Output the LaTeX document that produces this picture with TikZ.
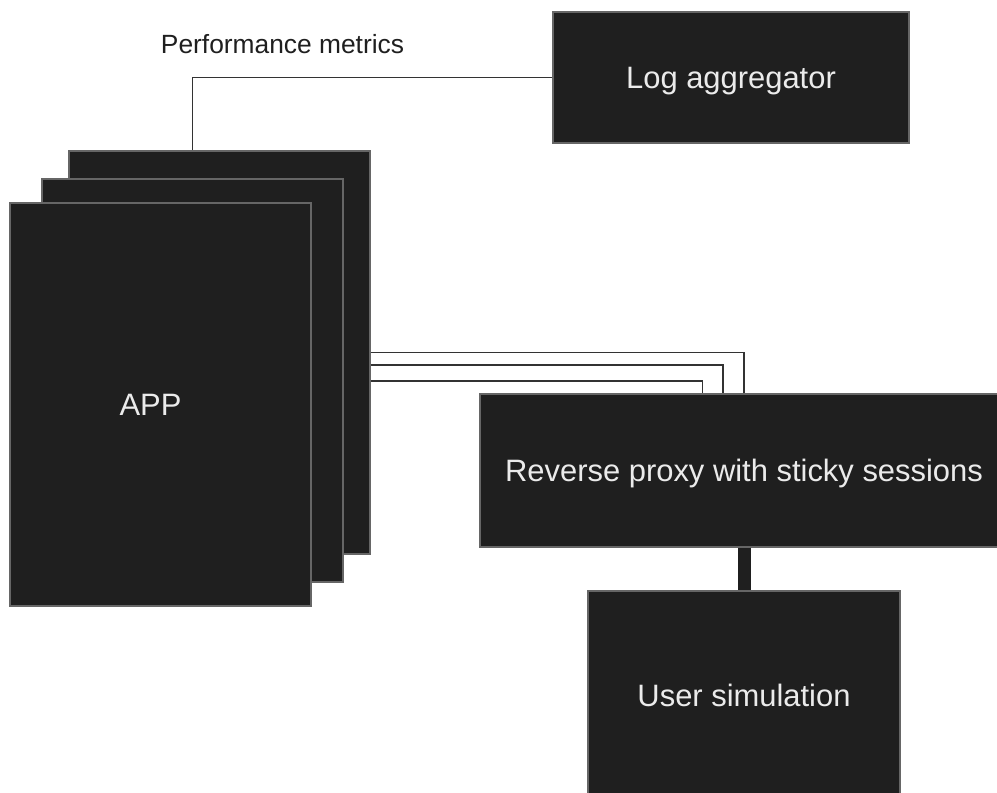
\documentclass[tikz,border=0pt]{standalone}
\usepackage{fontspec}
\setmainfont{Liberation Sans}
\usepackage{xcolor}
\usetikzlibrary{calc,backgrounds}

\definecolor{boxfill}{HTML}{1F1F1F}
\definecolor{boxedge}{HTML}{666666}
\definecolor{wire}{HTML}{333333}

\begin{document}
\begin{tikzpicture}[
  x=0.02cm, y=-0.02cm,
  every node/.style={font=\fontsize{17.6}{21}\selectfont, text depth=0pt},
  block/.style={draw=boxedge, fill=boxfill, text=white!92!black, line width=0.8pt, inner sep=0pt},
  app/.style={block, minimum width=6.02cm, minimum height=8.06cm},
  link/.style={draw=wire, line width=0.75pt}
]
  \useasboundingbox (0,0) rectangle (997,792);

  % stacked app instances, back to front
  \node[app] (app3) at (219.5,352.5) {};
  \node[app] (app2) at (192.5,380.5) {};
  \node[app] (app1) at (160.5,404.5) {};
  \node[text=white!92!black] (applabel) at ($(app1)+(-10,0)$) {APP};

  \node[block, minimum width=7.12cm, minimum height=2.62cm] (logagg) at (731,77.5) {Log aggregator};
  \node[block, minimum width=10.56cm, minimum height=3.06cm] (proxy) at (744,470.5) {Reverse proxy with sticky sessions};
  \node[block, minimum width=6.24cm, minimum height=4.16cm] (usersim) at (744,695) {User simulation};

  \node[font=\fontsize{15}{18}\selectfont, text=black!88] (metrics) at (282.5,44) {Performance metrics};

  \begin{scope}[on background layer]
    \draw[link] (logagg.west) -| ($(app3.north west)+(124,0)$);
    \draw[link] (app3.east) -| (proxy.north);
    \draw[link] ($(app2.east)+(0,-15.5)$) -| ($(proxy.north)+(-21,0)$);
    \draw[link] ($(app1.east)+(0,-23.5)$) -| ($(proxy.north)+(-41.5,0)$);
  \end{scope}

  \draw[boxfill, line width=0.26cm] (proxy.south) -- (usersim.north);
\end{tikzpicture}
\end{document}
